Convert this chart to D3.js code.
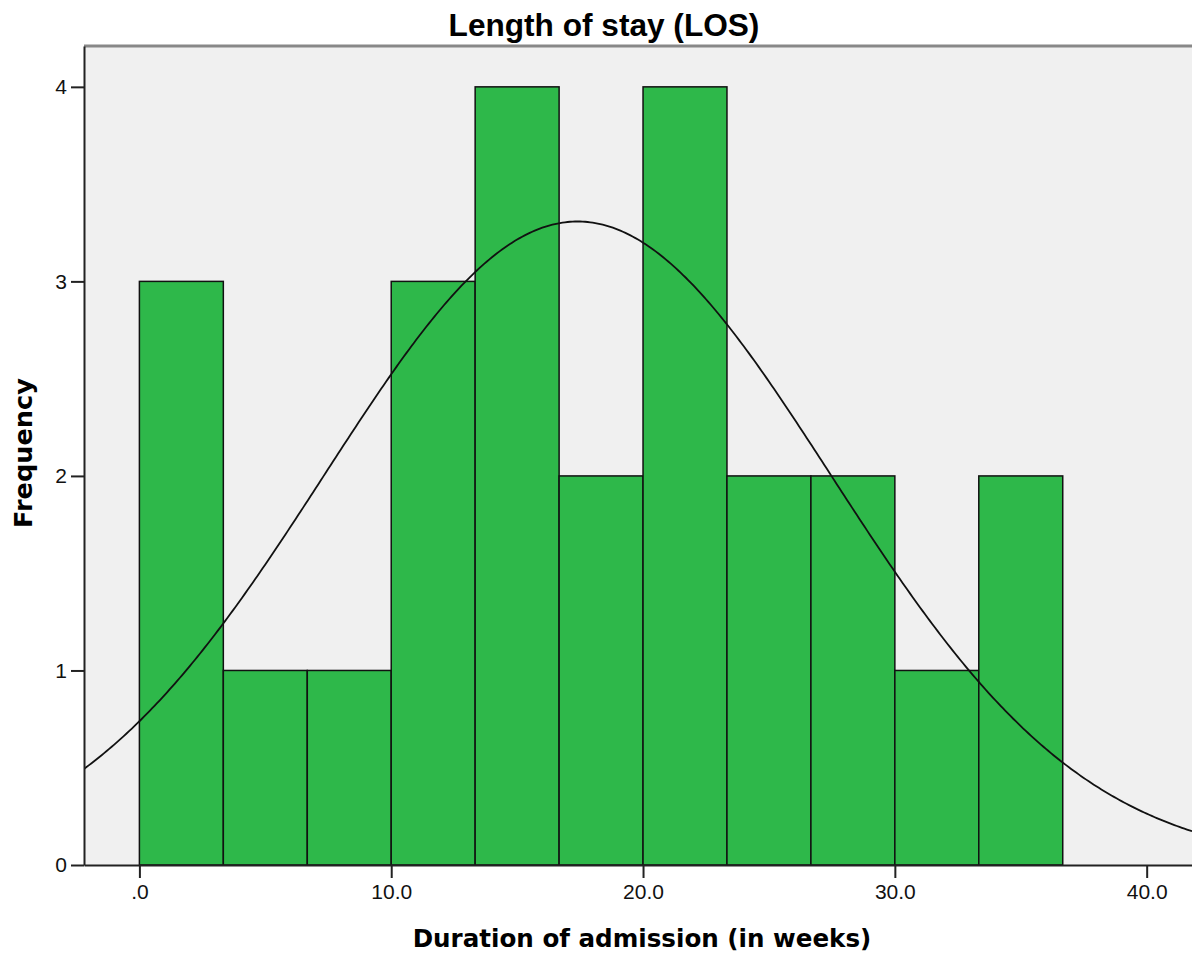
<!DOCTYPE html>
<html lang="en">
<head>
    <meta charset="UTF-8">
    <title>Length of stay (LOS)</title>
    <script src="https://d3js.org/d3.v7.min.js"></script>
    <style>
        body { margin: 0; background: #fff; font-family: "Liberation Sans", Arial, sans-serif; }
        svg { display: block; }
    </style>
</head>
<body>
    <svg id="chart" width="1192" height="956"></svg>
    <script>
        // Histogram bins (weeks) and counts
        const binEdges = [0, 3.333, 6.667, 10, 13.333, 16.667, 20, 23.333, 26.667, 30, 33.333, 36.667];
        const counts = [3, 1, 1, 3, 4, 2, 4, 2, 2, 1, 2];
        const xTicks = [0, 10, 20, 30, 40];
        const yTicks = [0, 1, 2, 3, 4];
        // fitted normal curve parameters
        const mean = 17.4, sd = 10.05, n = 25, binWidth = 10 / 3;

        const svg = d3.select("#chart");
        const plotLeft = 84, plotRight = 1192, plotTop = 46, plotBottom = 865;

        const x = d3.scaleLinear().domain([-2.2, 41.8]).range([plotLeft, plotRight]);
        const y = d3.scaleLinear().domain([0, 4.21]).range([plotBottom, plotTop]);

        svg.append("defs").append("clipPath").attr("id", "plot")
            .append("rect").attr("x", plotLeft).attr("y", plotTop)
            .attr("width", plotRight - plotLeft).attr("height", plotBottom - plotTop);

        // plot background
        svg.append("rect")
            .attr("x", plotLeft).attr("y", plotTop)
            .attr("width", plotRight - plotLeft).attr("height", plotBottom - plotTop)
            .attr("fill", "#f0f0f0");

        // bars
        const bins = counts.map((c, i) => ({ x0: binEdges[i], x1: binEdges[i + 1], count: c }));
        svg.append("g").selectAll("rect")
            .data(bins)
            .enter()
            .append("rect")
            .attr("x", d => x(d.x0))
            .attr("y", d => y(d.count))
            .attr("width", d => x(d.x1) - x(d.x0))
            .attr("height", d => y(0) - y(d.count))
            .attr("fill", "#2eb84a")
            .attr("stroke", "#111")
            .attr("stroke-width", 1.5);

        // normal curve
        const curvePts = d3.range(-2.2, 41.9, 0.1).map(v => {
            const z = (v - mean) / sd;
            return [v, n * binWidth / (sd * Math.sqrt(2 * Math.PI)) * Math.exp(-0.5 * z * z)];
        });
        svg.append("path")
            .datum(curvePts)
            .attr("clip-path", "url(#plot)")
            .attr("fill", "none")
            .attr("stroke", "#111")
            .attr("stroke-width", 1.8)
            .attr("d", d3.line().x(d => x(d[0])).y(d => y(d[1])));

        // top border
        svg.append("line")
            .attr("x1", plotLeft).attr("x2", plotRight)
            .attr("y1", plotTop).attr("y2", plotTop)
            .attr("stroke", "#888").attr("stroke-width", 3);

        // axes
        const xAxis = svg.append("g")
            .attr("transform", `translate(0,${plotBottom})`)
            .call(d3.axisBottom(x).tickValues(xTicks).tickSize(13).tickSizeOuter(0).tickPadding(6)
                .tickFormat(d => d === 0 ? ".0" : d3.format(".1f")(d)));
        xAxis.select(".domain").attr("stroke", "#222").attr("stroke-width", 2);
        xAxis.selectAll(".tick line").attr("stroke", "#222").attr("stroke-width", 2);

        const yAxis = svg.append("g")
            .attr("transform", `translate(${plotLeft},0)`)
            .call(d3.axisLeft(y).tickValues(yTicks).tickSize(13).tickSizeOuter(0).tickPadding(4)
                .tickFormat(d3.format("d")));
        yAxis.select(".domain").attr("stroke", "#222").attr("stroke-width", 2);
        yAxis.selectAll(".tick line").attr("stroke", "#222").attr("stroke-width", 2);

        svg.selectAll(".tick text")
            .attr("font-family", "'Liberation Sans', Arial, sans-serif")
            .attr("font-size", 21)
            .attr("fill", "#111");

        // scale a label's font so it spans the width seen in the picture
        function fitWidth(sel, width) {
            const size = +sel.attr("font-size");
            const len = sel.node().getComputedTextLength();
            sel.attr("font-size", size * width / len);
        }

        // titles
        svg.append("text")
            .attr("x", 604).attr("y", 36)
            .attr("text-anchor", "middle")
            .attr("font-size", 30).attr("font-weight", "bold")
            .text("Length of stay (LOS)")
            .call(fitWidth, 311);

        svg.append("text")
            .attr("x", 642).attr("y", 947)
            .attr("text-anchor", "middle")
            .attr("font-family", "'DejaVu Sans', Verdana, sans-serif")
            .attr("font-size", 26).attr("font-weight", "bold")
            .text("Duration of admission (in weeks)")
            .call(fitWidth, 459);

        svg.append("text")
            .attr("transform", "translate(32,453) rotate(-90)")
            .attr("text-anchor", "middle")
            .attr("font-family", "'DejaVu Sans', Verdana, sans-serif")
            .attr("font-size", 26).attr("font-weight", "bold")
            .text("Frequency")
            .call(fitWidth, 150);
    </script>
</body>
</html>
